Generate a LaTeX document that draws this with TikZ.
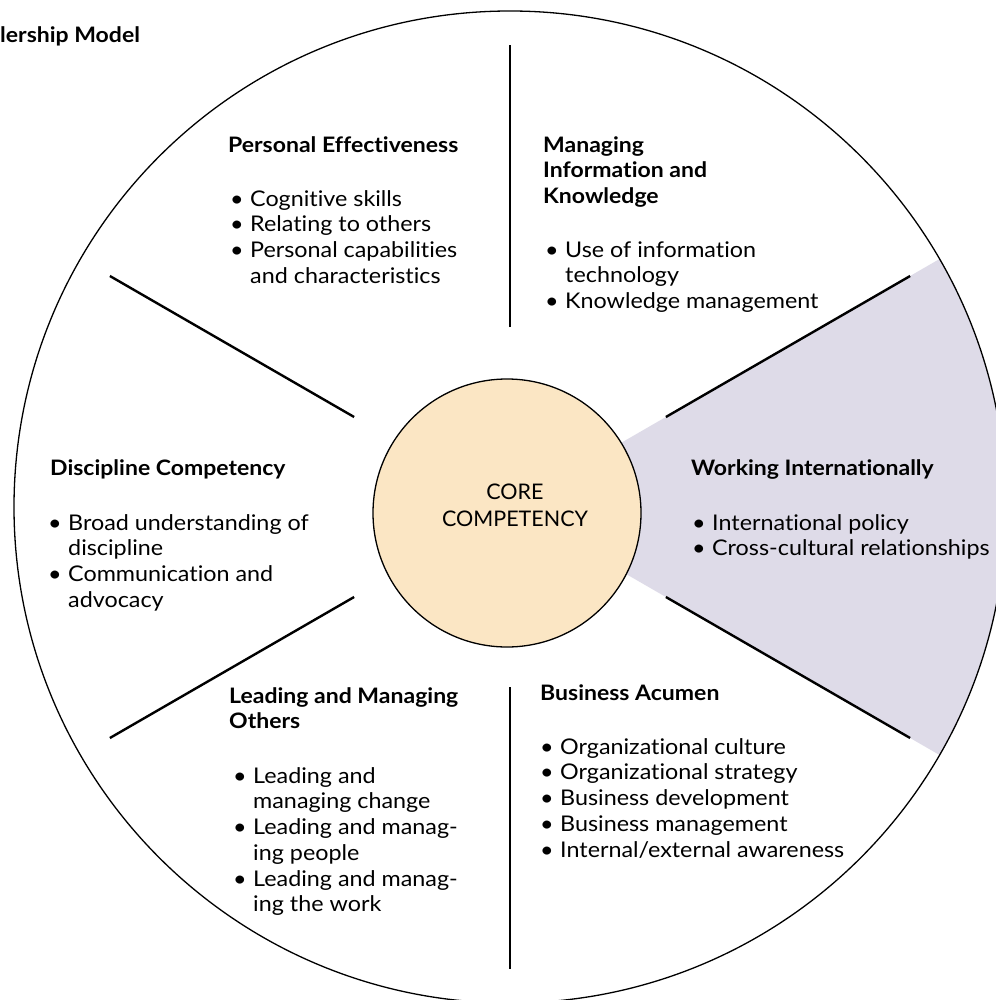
\documentclass[tikz,border=0pt]{standalone}
\usepackage{fontspec}
\setmainfont{Lato}[FakeStretch=1.08, Ligatures=NoCommon]
\newfontfamily\plainlato{Lato}[Ligatures=NoCommon]
\usetikzlibrary{calc}
\definecolor{wedgecol}{RGB}{222,219,232}
\definecolor{corecol}{RGB}{251,230,196}
\newcommand\bul{\makebox[20pt][l]{•}}
\newcommand\ind{\hspace*{20pt}}
\tikzset{
  head/.style={font=\fontsize{21.3}{25.5}\selectfont\bfseries, anchor=north west, inner sep=0pt, align=left},
  body/.style={font=\fontsize{21.6}{25.7}\selectfont, anchor=north west, inner sep=0pt, align=left},
  spoke/.style={line width=2.4pt},
  rim/.style={line width=1.3pt},
}
\begin{document}
\begin{tikzpicture}[x=1pt,y=-1pt]
\useasboundingbox (0,0) rectangle (995,1000);
\fill[white] (0,0) rectangle (995,1000);
\coordinate (cen) at (510,507);
% highlighted wedge
\fill[wedgecol] (cen) -- ++(-30:496) arc[start angle=-30,end angle=30,radius=496] -- cycle;
% outer wheel
\node[draw, rim, circle, minimum size=992pt, inner sep=0pt] (wheel) at (cen) {};
% core
\node[draw, rim, fill=corecol, circle, minimum size=268pt, inner sep=0pt] (core) at (507,513) {};
\node[font=\plainlato\fontsize{21.5}{27}\selectfont, align=center, anchor=north, inner sep=0pt] (corelabel) at (515,480) {\strut CORE\\COMPETENCY};
% spokes
\foreach \a/\n in {-90/a,-30/b,30/c,90/d,150/e,210/f}{
  \coordinate (in\n) at ($(cen)+(\a:180)$);
  \coordinate (out\n) at ($(cen)+(\a:462)$);
  \draw[spoke] (in\n) -- (out\n);
}
% title
\node[font=\fontsize{21.3}{25}\selectfont\bfseries, anchor=base west, inner sep=0pt] (title) at (0,43) {lership Model};
% Personal Effectiveness
\node[head] (peh) at (228,134) {\strut Personal Effectiveness};
\node[body] (peb) at (230,188) {\strut\bul Cognitive skills\\\bul Relating to others\\\bul Personal capabilities\\\ind and characteristics};
% Managing Information and Knowledge
\node[head] (mih) at (543,134) {\strut Managing\\Information and\\Knowledge};
\node[body] (mib) at (545,239) {\strut\bul Use of information\\\ind technology\\\bul Knowledge management};
% Discipline Competency
\node[head] (dch) at (50,457) {\strut Discipline Competency};
\node[body] (dcb) at (48,512) {\strut\bul Broad understanding of\\\ind discipline\\\bul Communication and\\\ind advocacy};
% Working Internationally
\node[head] (wih) at (691,457) {\strut Working Internationally};
\node[body] (wib) at (692,512) {\strut\bul International policy\\\bul Cross-cultural relationships};
% Business Acumen
\node[head] (bah) at (540,682) {\strut Business Acumen};
\node[body] (bab) at (540,736) {\strut\bul Organizational culture\\\bul Organizational strategy\\\bul Business development\\\bul Business management\\\bul Internal/external awareness};
% Leading and Managing Others
\node[head] (lmh) at (229,685) {\strut Leading and Managing\\Others};
\node[body] (lmb) at (233,765) {\strut\bul Leading and\\\ind managing change\\\bul Leading and manag-\\\ind ing people\\\bul Leading and manag-\\\ind ing the work};
\end{tikzpicture}
\end{document}
